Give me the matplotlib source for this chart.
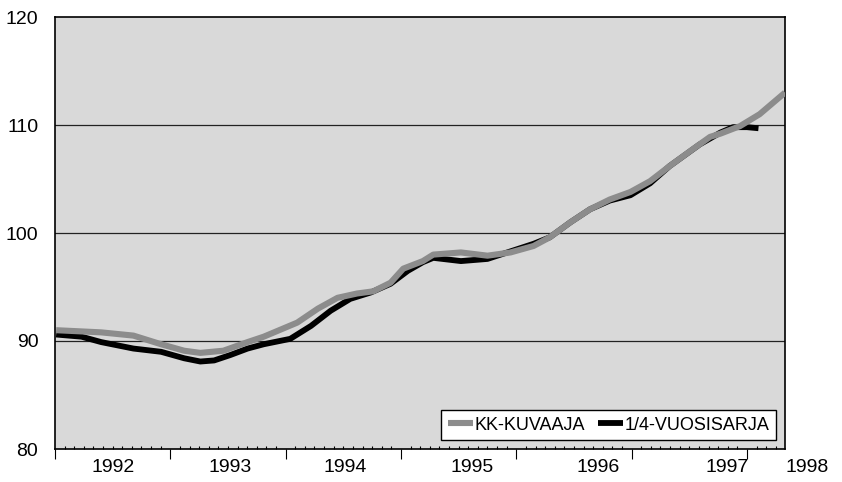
import numpy as np
import matplotlib
matplotlib.use("Agg")
import matplotlib.pyplot as plt
from matplotlib.ticker import MultipleLocator

plt.rcParams['font.family'] = ['Liberation Sans', 'DejaVu Sans']

# KK-KUVAAJA (monthly series), x in fractional years
kk_x = [1992.01, 1992.40, 1992.68, 1992.92, 1993.12, 1993.26, 1993.46, 1993.67,
        1993.81, 1994.10, 1994.28, 1994.45, 1994.62, 1994.76, 1994.91, 1995.02,
        1995.19, 1995.28, 1995.52, 1995.75, 1995.95, 1996.15, 1996.29, 1996.47,
        1996.64, 1996.81, 1996.99, 1997.16, 1997.33, 1997.51, 1997.68, 1997.77,
        1997.94, 1998.11, 1998.33]
kk_y = [91.0, 90.8, 90.5, 89.7, 89.1, 88.9, 89.1, 89.9,
        90.4, 91.7, 93.0, 94.0, 94.4, 94.6, 95.4, 96.7,
        97.4, 98.0, 98.2, 97.9, 98.2, 98.8, 99.6, 101.0,
        102.2, 103.1, 103.8, 104.8, 106.2, 107.6, 108.9, 109.2,
        109.9, 111.0, 113.0]

# 1/4-VUOSISARJA (quarterly series)
q_x = [1992.01, 1992.23, 1992.40, 1992.68, 1992.92, 1993.12, 1993.26, 1993.38,
       1993.52, 1993.67, 1993.81, 1994.04, 1994.22, 1994.39, 1994.56, 1994.74,
       1994.91, 1995.06, 1995.19, 1995.28, 1995.52, 1995.75, 1995.95, 1996.15,
       1996.29, 1996.47, 1996.64, 1996.81, 1996.99, 1997.16, 1997.33, 1997.59,
       1997.77, 1997.88, 1998.00, 1998.10]
q_y = [90.6, 90.4, 89.9, 89.3, 89.0, 88.4, 88.1, 88.2,
       88.7, 89.3, 89.7, 90.2, 91.4, 92.8, 93.9, 94.5,
       95.3, 96.5, 97.3, 97.7, 97.4, 97.6, 98.3, 99.0,
       99.6, 101.0, 102.2, 103.0, 103.5, 104.6, 106.2, 108.2,
       109.3, 109.8, 109.8, 109.7]

year_labels = ['1992', '1993', '1994', '1995', '1996', '1997', '1998']
label_pos = [1992.50, 1993.52, 1994.52, 1995.62, 1996.71, 1997.83, 1998.52]

fig = plt.figure(figsize=(8.42, 4.82), dpi=100)
ax = fig.add_axes([55/842, 1 - 449/482, 730/842, 432/482])
ax.set_facecolor('#d9d9d9')

ax.plot(q_x, q_y, color='black', lw=4.2, solid_capstyle='butt',
        solid_joinstyle='round', label='1/4-VUOSISARJA', zorder=3)
ax.plot(kk_x, kk_y, color='#8c8c8c', lw=4.4, solid_capstyle='butt',
        solid_joinstyle='round', label='KK-KUVAAJA', zorder=4)

ax.set_xlim(1992.0, 1998.33)
ax.set_ylim(80, 120)
ax.set_yticks([80, 90, 100, 110, 120])
ax.tick_params(axis='y', length=0, pad=12, labelsize=14)
for v in [90, 100, 110]:
    ax.axhline(v, color='#222222', lw=0.9, zorder=2)

ax.set_xticks(np.arange(1992, 1999))
ax.set_xticklabels([])
ax.xaxis.set_minor_locator(MultipleLocator(1/12))
ax.tick_params(axis='x', which='major', direction='out', length=7, width=0.8)
ax.tick_params(axis='x', which='minor', direction='in', length=2.5, width=0.8)
for lab, p in zip(year_labels, label_pos):
    ax.text(p, -0.042, lab, transform=ax.get_xaxis_transform(),
            ha='center', va='center', fontsize=14, clip_on=False)

for s in ax.spines.values():
    s.set_linewidth(1.2)
    s.set_color('black')

h, l = ax.get_legend_handles_labels()
leg = ax.legend(h[::-1], l[::-1], loc='lower right', bbox_to_anchor=(0.988, 0.021),
                ncol=2, fontsize=13, frameon=True, fancybox=False, framealpha=1,
                edgecolor='black', borderaxespad=0, handlelength=1.4,
                handletextpad=0.1, columnspacing=0.7, borderpad=0.35)
leg.get_frame().set_linewidth(1.0)

fig.savefig('out.png', dpi=100)
